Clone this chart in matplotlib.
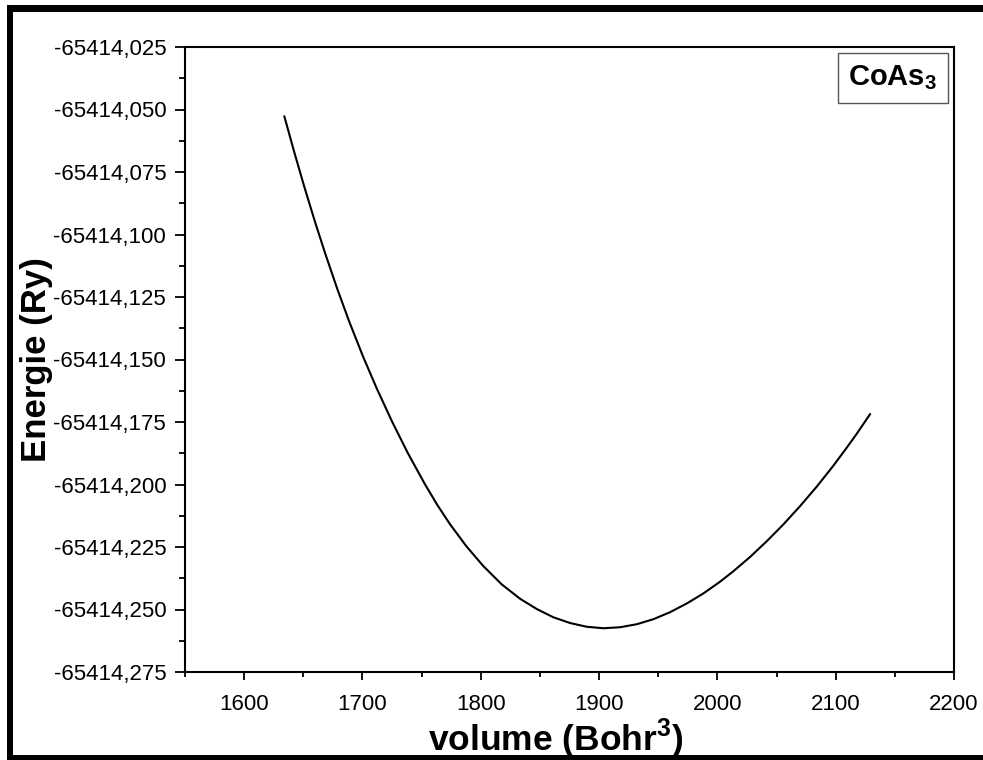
import matplotlib
matplotlib.use("Agg")
import matplotlib.pyplot as plt
from matplotlib.ticker import FuncFormatter, MultipleLocator
from matplotlib.patches import Rectangle

plt.rcParams['font.family'] = ['Liberation Sans', 'DejaVu Sans']
plt.rcParams['mathtext.fontset'] = 'custom'
plt.rcParams['mathtext.rm'] = 'Liberation Sans'
plt.rcParams['mathtext.bf'] = 'Liberation Sans:bold'

# Data
volume = [1634.0, 1642.2, 1650.9, 1659.6, 1668.3, 1678.6, 1688.7, 1700.4,
          1712.0, 1725.1, 1738.2, 1752.7, 1763.3, 1774.0, 1788.0, 1802.1,
          1817.6, 1833.2, 1847.3, 1861.3, 1875.4, 1889.5, 1903.6, 1917.7,
          1931.8, 1945.8, 1959.9, 1974.1, 1988.1, 2002.2, 2013.5, 2027.6,
          2041.7, 2055.7, 2069.8, 2083.9, 2098.0, 2109.3, 2117.8, 2129.0]
energy = [-65414.0528, -65414.0668, -65414.0810, -65414.0945, -65414.1073,
          -65414.1216, -65414.1347, -65414.1487, -65414.1615, -65414.1749,
          -65414.1873, -65414.1998, -65414.2082, -65414.2159, -65414.2248,
          -65414.2326, -65414.2399, -65414.2457, -65414.2498, -65414.2531,
          -65414.2554, -65414.2569, -65414.2575, -65414.2571, -65414.2559,
          -65414.2539, -65414.2511, -65414.2476, -65414.2436, -65414.2389,
          -65414.2347, -65414.2290, -65414.2227, -65414.2160, -65414.2087,
          -65414.2009, -65414.1925, -65414.1853, -65414.1797, -65414.1719]

W, H = 983, 760
fig = plt.figure(figsize=(W / 100, H / 100), dpi=100)
ax = fig.add_axes([185 / W, 1 - 672 / H, (954 - 185) / W, (672 - 47) / H])

ax.plot(volume, energy, color='black', lw=1.5, solid_joinstyle='round')

ax.set_xlim(1550, 2200)
ax.set_ylim(-65414.275, -65414.025)
ax.xaxis.set_major_locator(MultipleLocator(100))
ax.xaxis.set_minor_locator(MultipleLocator(50))
ax.yaxis.set_major_locator(MultipleLocator(0.025))
ax.yaxis.set_minor_locator(MultipleLocator(0.0125))
ax.yaxis.set_major_formatter(FuncFormatter(lambda v, p: f"{v:.3f}".replace('.', ',')))
ax.xaxis.set_major_formatter(FuncFormatter(lambda v, p: f"{v:.0f}"))

for s in ax.spines.values():
    s.set_linewidth(1.5)

ax.tick_params(axis='y', which='major', direction='out', length=7.5, width=1.3,
               labelsize=16, pad=6)
ax.tick_params(axis='y', which='minor', direction='out', length=4, width=1.3)
ax.tick_params(axis='x', which='major', direction='out', length=5.5, width=1.3,
               labelsize=16, pad=10)
ax.tick_params(axis='x', which='minor', direction='out', length=3.5, width=1.3)

ax.set_xlabel('volume (Bohr$^{\\mathbf{3}}$)', fontsize=25.5, fontweight='bold')
ax.xaxis.set_label_coords(0.4825, -0.072)
ax.set_ylabel('Energie (Ry)', fontsize=25, fontweight='bold', labelpad=0)

ax.text(0.978, 0.974, 'CoAs$_{\\mathbf{3}}$', transform=ax.transAxes, ha='right', va='top',
        fontsize=21, fontweight='bold',
        bbox=dict(boxstyle='square,pad=0.36', facecolor='white', edgecolor='#555555', lw=1))

# outer frame (top, left, bottom)
def frame(x0, y0, x1, y1):
    fig.add_artist(Rectangle((x0 / W, 1 - y1 / H), (x1 - x0) / W, (y1 - y0) / H,
                             transform=fig.transFigure, facecolor='black',
                             edgecolor='none', zorder=10))

frame(7, 5, W, 12)
frame(7, 5, 13, H)
frame(7, 755, W, H)

fig.savefig('out.png', dpi=100)
